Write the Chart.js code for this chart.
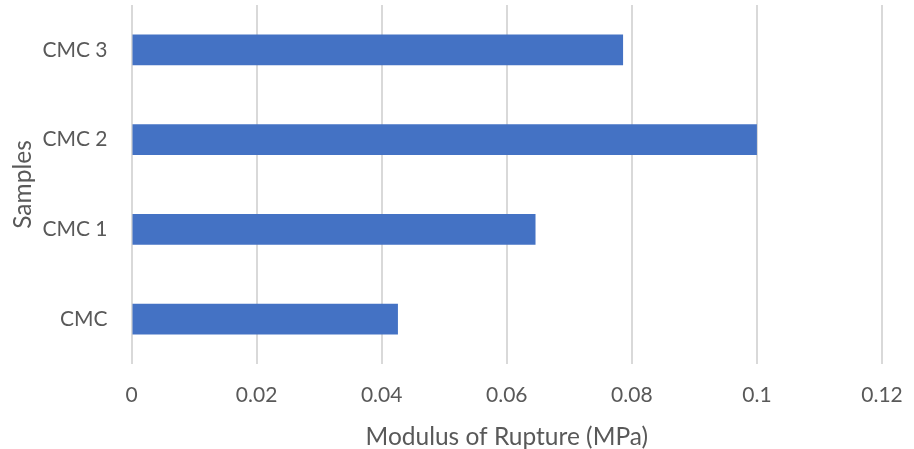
<!DOCTYPE html>
<html>
<head>
<meta charset="utf-8">
<script src="https://cdn.jsdelivr.net/npm/chart.js@4"></script>
<style>
html,body{margin:0;padding:0;background:#fff;}
#wrap{width:914px;height:449px;position:relative;}
</style>
</head>
<body>
<div id="wrap"><canvas id="c" width="914" height="449"></canvas></div>
<script>
const categories = ["CMC 3", "CMC 2", "CMC 1", "CMC"];
const modulusOfRupture = [0.0786, 0.1, 0.0646, 0.0426];
const xTicks = [0, 0.02, 0.04, 0.06, 0.08, 0.1, 0.12];
const xTitle = "Modulus of Rupture (MPa)";
const yTitle = "Samples";

const FONT = "Lato, 'Open Sans', sans-serif";
const TXT = "#595959";

new Chart(document.getElementById('c'), {
  type: 'bar',
  data: {
    labels: categories,
    datasets: [{
      data: modulusOfRupture,
      backgroundColor: '#4472C4',
      borderWidth: 0,
      categoryPercentage: 1,
      barPercentage: 0.345
    }]
  },
  options: {
    indexAxis: 'y',
    responsive: false,
    animation: false,
    layout: { padding: { top: 5, right: 32, left: 0, bottom: 0 } },
    plugins: { legend: { display: false }, tooltip: { enabled: false } },
    scales: {
      x: {
        min: 0, max: 0.12,
        afterBuildTicks: (s) => { s.ticks = xTicks.map(v => ({ value: v })); },
        afterFit: (s) => { s.height = 85; s.paddingLeft = 0; s.paddingRight = 0; },
        grid: { color: '#d9d9d9', lineWidth: 2, drawTicks: false },
        border: { display: false },
        ticks: {
          padding: 19,
          color: TXT,
          font: { family: FONT, size: 21 },
          callback: (v) => String(v)
        },
        title: {
          display: true, text: xTitle, color: TXT,
          font: { family: FONT, size: 24.5, lineHeight: 1 },
          padding: { top: 0, bottom: 0 }
        }
      },
      y: {
        afterFit: (s) => { s.width = 131.5; s.paddingTop = 0; s.paddingBottom = 0; },
        grid: { display: false, drawTicks: false },
        border: { display: false },
        ticks: {
          padding: 24,
          color: TXT,
          font: { family: FONT, size: 21 }
        },
        title: {
          display: true, text: yTitle, color: TXT,
          font: { family: FONT, size: 24.5, lineHeight: 1 },
          padding: { top: 11, bottom: 0 }
        }
      }
    }
  }
});
</script>
</body>
</html>
